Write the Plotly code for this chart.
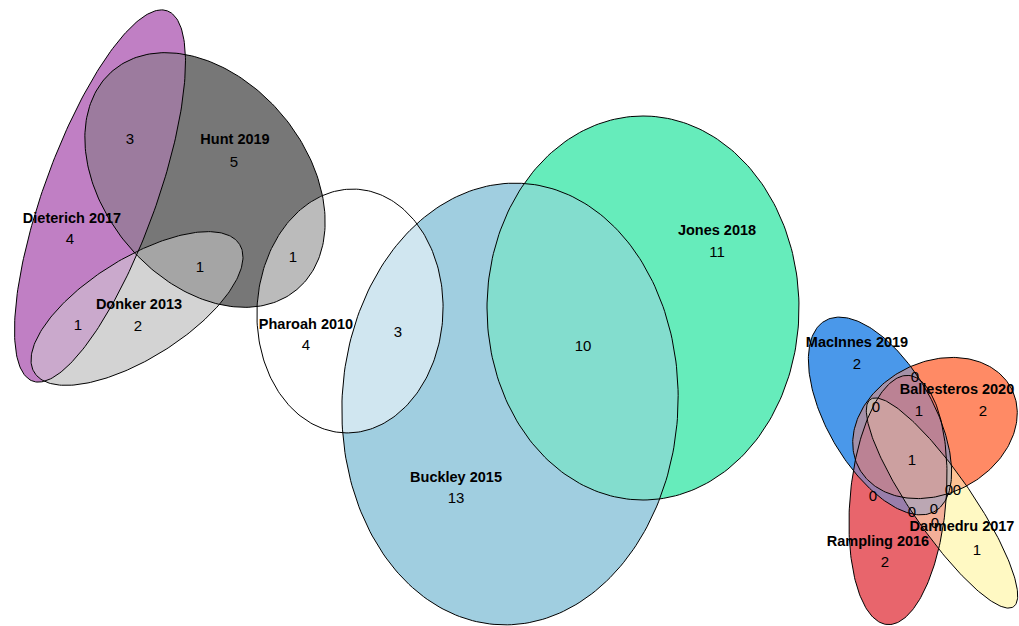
import numpy as np
import plotly.graph_objects as go

# ---- Euler diagram data (ellipse fits, pixel space) ----
set_names = ["Dieterich 2017", "Hunt 2019", "Donker 2013", "Pharoah 2010", "Buckley 2015",
             "Jones 2018", "MacInnes 2019", "Ballesteros 2020", "Rampling 2016", "Darmedru 2017"]
set_colors = ["#C07FC4", "#777777", "#D3D3D3", "#FFFFFF", "#A0CEE0",
              "#66ECBB", "#4A98EA", "#FF8A65", "#E8656C", "#FFF9C3"]
ell_h = [100, 205, 137, 350, 510, 643, 880, 935, 898, 942]
ell_k = [196, 180, 308.5, 311, 404, 308, 416, 428, 500, 503]
ell_a = [197, 143, 121, 122, 221, 192, 110, 86, 125, 126]
ell_b = [56, 101, 50, 93, 168, 156, 53, 66, 48, 30]
ell_phi = [70, -50, 32, 87, 87, 90, -60, 27, 85, -55.4]

label_x = [72, 235, 139, 306, 456, 717, 857, 957, 878, 962]
label_y = [219, 140, 305, 325, 478, 231, 343, 390, 542, 527]

qty_text = ["4", "5", "2", "4", "13", "11", "2", "2", "2", "1",
            "3", "1", "1", "1", "3", "10", "1", "1",
            "0", "0", "0", "0", "0", "0", "0", "0"]
qty_x = [70, 234, 138, 306, 456, 717, 857, 983, 885, 977,
         130, 200, 78, 293, 398, 583, 919, 912,
         915, 876, 873, 912, 934, 949, 957, 935]
qty_y = [240, 163, 327, 346, 499, 253, 365, 412, 563, 551,
         140, 268, 326, 258, 333, 347, 412, 461,
         378, 408, 497, 513, 510, 491, 491, 524]


def ellipse_poly(h, k, a, b, phi, n=240):
    t = np.linspace(0, 2 * np.pi, n, endpoint=False)
    p = np.deg2rad(phi)
    x = h + a * np.cos(t) * np.cos(p) - b * np.sin(t) * np.sin(p)
    yu = a * np.cos(t) * np.sin(p) + b * np.sin(t) * np.cos(p)
    return np.column_stack([x, k - yu])


def area(poly):
    if len(poly) < 3:
        return 0.0
    x, y = poly[:, 0], poly[:, 1]
    return 0.5 * (np.dot(x, np.roll(y, -1)) - np.dot(y, np.roll(x, -1)))


def clip(subject, clipper):
    orient = np.sign(area(clipper))
    out = subject
    n = len(clipper)
    for i in range(n):
        if len(out) == 0:
            break
        c1 = clipper[i]
        c2 = clipper[(i + 1) % n]
        e = c2 - c1
        d = orient * (e[0] * (out[:, 1] - c1[1]) - e[1] * (out[:, 0] - c1[0]))
        ins = d >= 0
        if ins.all():
            continue
        if not ins.any():
            return np.empty((0, 2))
        res = []
        m = len(out)
        for j in range(m):
            cur, prv = out[j], out[j - 1]
            dc, dp = d[j], d[j - 1]
            if dc >= 0:
                if dp < 0:
                    tt = dp / (dp - dc)
                    res.append(prv + tt * (cur - prv))
                res.append(cur)
            elif dp >= 0:
                tt = dp / (dp - dc)
                res.append(prv + tt * (cur - prv))
        out = np.array(res) if res else np.empty((0, 2))
    return out


def hex2rgb(c):
    c = c.lstrip("#")
    return np.array([int(c[i:i + 2], 16) for i in (0, 2, 4)], dtype=float)


polys = [ellipse_poly(ell_h[i], ell_k[i], ell_a[i], ell_b[i], ell_phi[i]) for i in range(len(set_names))]
rgbs = [hex2rgb(c) for c in set_colors]
nset = len(polys)

# overlap graph
overlap = np.zeros((nset, nset), bool)
for i in range(nset):
    for j in range(i + 1, nset):
        inter = clip(polys[i], polys[j])
        if abs(area(inter)) > 0.5:
            overlap[i, j] = overlap[j, i] = True

levels = [{(i,): polys[i] for i in range(nset)}]
while True:
    nxt = {}
    for S, poly in levels[-1].items():
        for j in range(S[-1] + 1, nset):
            if all(overlap[s, j] for s in S):
                inter = clip(poly, polys[j])
                if abs(area(inter)) > 0.5:
                    nxt[S + (j,)] = inter
    if not nxt:
        break
    levels.append(nxt)

fig = go.Figure()
for lev in levels:
    for S, poly in lev.items():
        col = np.mean([rgbs[s] for s in S], axis=0)
        fc = "rgb(%d,%d,%d)" % tuple(np.round(col).astype(int))
        xs = list(poly[:, 0]) + [poly[0, 0]]
        ys = list(poly[:, 1]) + [poly[0, 1]]
        fig.add_trace(go.Scatter(x=xs, y=ys, mode="lines", fill="toself", fillcolor=fc,
                                 line=dict(width=0, color=fc), hoverinfo="skip", showlegend=False))

for i, poly in enumerate(polys):
    xs = list(poly[:, 0]) + [poly[0, 0]]
    ys = list(poly[:, 1]) + [poly[0, 1]]
    fig.add_trace(go.Scatter(x=xs, y=ys, mode="lines", line=dict(color="black", width=1),
                             hoverinfo="skip", showlegend=False, name=set_names[i]))

font_family = "Liberation Sans Narrow, Arial Narrow, Liberation Sans, Arial, sans-serif"
fig.add_trace(go.Scatter(x=label_x, y=label_y, mode="text",
                         text=["<b>%s</b>" % s for s in set_names],
                         textfont=dict(family=font_family, size=14.5, color="black"),
                         hoverinfo="skip", showlegend=False))
fig.add_trace(go.Scatter(x=qty_x, y=qty_y, mode="text", text=qty_text,
                         textfont=dict(family=font_family, size=15, color="black"),
                         hoverinfo="skip", showlegend=False))

fig.update_xaxes(range=[0, 1019], visible=False, showgrid=False, zeroline=False)
fig.update_yaxes(range=[626, 0], visible=False, showgrid=False, zeroline=False)
fig.update_layout(width=1019, height=626, margin=dict(l=0, r=0, t=0, b=0),
                  paper_bgcolor="white", plot_bgcolor="white")
fig.write_html("out.html")
